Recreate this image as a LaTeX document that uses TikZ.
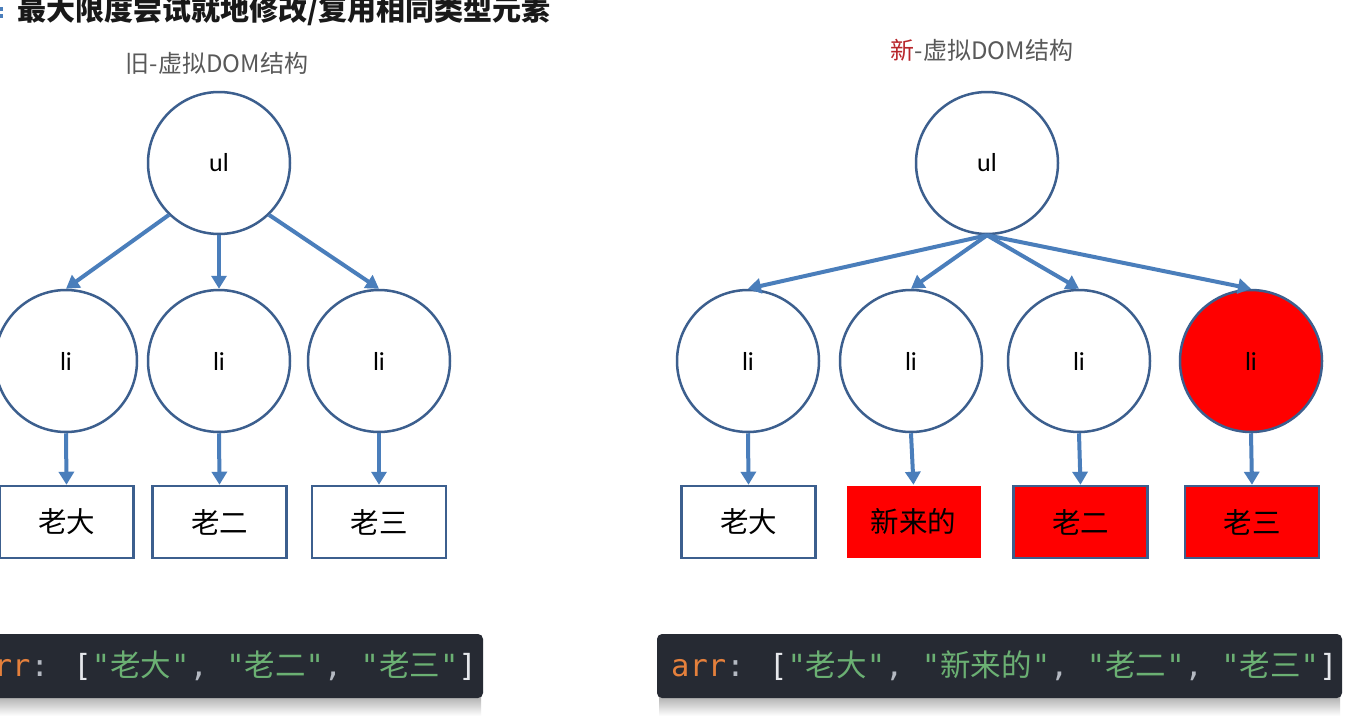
\documentclass[tikz,border=0pt]{standalone}
\usepackage{fontspec}
\usetikzlibrary{arrows.meta,shadings}
\newfontfamily\cjk{Noto Sans CJK SC}
\newfontfamily\calib{Carlito}
\newfontfamily\mono{DejaVu Sans Mono}
\definecolor{circblue}{HTML}{3C5F8E}
\definecolor{arrblue}{HTML}{4A7EBB}
\definecolor{subgray}{HTML}{595959}
\definecolor{newred}{HTML}{B8262B}
\definecolor{codebg}{HTML}{262A33}
\definecolor{codeorange}{HTML}{E5803C}
\definecolor{codegray}{HTML}{B4B9C2}
\definecolor{codewhite}{HTML}{E6E8EC}
\definecolor{codegreen}{HTML}{6BB073}
\newcommand\mycstr[1]{\textcolor{codegreen}{"{\cjk #1}"}}
\newcommand\mycsep{\textcolor{codegray}{, }}
\begin{document}
\begin{tikzpicture}[x=1pt,y=-1pt,
  circnode/.style={circle,draw=circblue,line width=2.5pt,fill=white,minimum size=142pt,inner sep=0pt,font=\calib\fontsize{26}{26}\selectfont},
  redcirc/.style={circnode,fill=red},
  boxnode/.style={rectangle,draw=circblue,line width=2.5pt,fill=white,minimum width=134pt,minimum height=72pt,inner sep=0pt,font=\cjk\fontsize{28.5}{28.5}\selectfont},
  redbox/.style={boxnode,fill=red},
  plainred/.style={boxnode,draw=none,fill=red},
  link/.style={draw=arrblue,line width=4pt,-{Triangle[width=15pt,length=13pt]}},
  codebox/.style={fill=codebg,rounded corners=5pt},
  codetext/.style={font=\mono\fontsize{30.5}{30.5}\selectfont,inner sep=0pt}
]
\useasboundingbox (0,0) rectangle (1361,720);
\fill[white] (0,0) rectangle (1361,720);

% title
\fill[arrblue] (0,7) rectangle (3,11);
\fill[arrblue] (0,14) rectangle (3,18);
\node[anchor=west,inner sep=0pt,font=\cjk\bfseries\fontsize{29}{29}\selectfont,text=black!90] (title) at (17,11) {最大限度尝试就地修改/复用相同类型元素};

% subtitles
\node[inner sep=0pt,font=\cjk\fontsize{24}{24}\selectfont,text=subgray] (oldt) at (217,63) {旧-虚拟DOM结构};
\node[inner sep=0pt,font=\cjk\fontsize{24}{24}\selectfont,text=subgray] (newt) at (982,50) {\textcolor{newred}{新}-虚拟DOM结构};

% old tree
\node[circnode] (oul) at (219,163) {ul};
\node[circnode] (oli1) at (66,361) {li};
\node[circnode] (oli2) at (219,361) {li};
\node[circnode] (oli3) at (379,361) {li};
\node[boxnode] (ob1) at (66.5,522) {老大};
\node[boxnode] (ob2) at (219.5,522) {老二};
\node[boxnode] (ob3) at (379,522) {老三};
\draw[link] (oul.-134) -- (oli1.north);
\draw[link] (oul.south) -- (oli2.north);
\draw[link] (oul.-46) -- (oli3.north);
\draw[link] (oli1.south) -- (ob1.north);
\draw[link] (oli2.south) -- (ob2.north);
\draw[link] (oli3.south) -- (ob3.north);

% new tree
\node[circnode] (nul) at (987,163) {ul};
\node[circnode] (nli1) at (748,361) {li};
\node[circnode] (nli2) at (911,361) {li};
\node[circnode] (nli3) at (1079,361) {li};
\node[redcirc] (nli4) at (1251,361) {li};
\node[boxnode] (nb1) at (748.5,522) {老大};
\node[plainred] (nb2) at (913.5,522) {新来的};
\node[redbox] (nb3) at (1080.5,522) {老二};
\node[redbox] (nb4) at (1252,522) {老三};
\draw[link] (nul.south) -- (nli1.north);
\draw[link] (nul.south) -- (nli2.north);
\draw[link] (nul.south) -- (nli3.north);
\draw[link] (nul.south) -- (nli4.north);
\draw[link] (nli1.south) -- (nb1.north);
\draw[link] (nli2.south) -- (nb2.north);
\draw[link] (nli3.south) -- (nb3.north);
\draw[link] (nli4.south) -- (nb4.north);

% code boxes
\shade[top color=black!35,bottom color=white] (0,694) rectangle (481,716);
\shade[top color=black!35,bottom color=white] (659,694) rectangle (1340,716);
\fill[codebox] (-10,634) rectangle (483,698);
\fill[codebox] (657,634) rectangle (1342,698);
\node[codetext,anchor=east] (oldcode) at (477,666) {\textcolor{codeorange}{arr}\textcolor{codegray}{: }\textcolor{codewhite}{[}\mycstr{老大}\mycsep\mycstr{老二}\mycsep\mycstr{老三}\textcolor{codewhite}{]}};
\node[codetext,anchor=west] (newcode) at (671,666) {\textcolor{codeorange}{arr}\textcolor{codegray}{: }\textcolor{codewhite}{[}\mycstr{老大}\mycsep\mycstr{新来的}\mycsep\mycstr{老二}\mycsep\mycstr{老三}\textcolor{codewhite}{]}};
\end{tikzpicture}
\end{document}
